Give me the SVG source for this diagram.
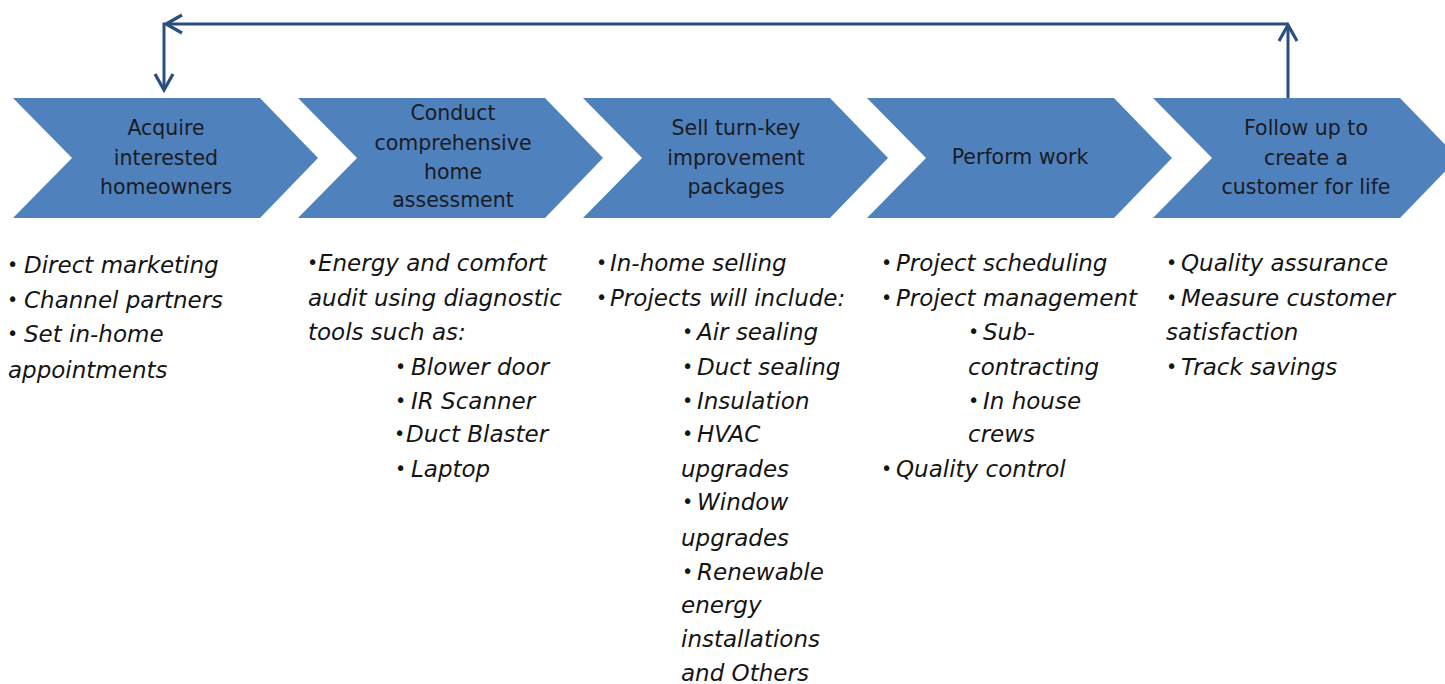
<svg xmlns="http://www.w3.org/2000/svg" width="1445" height="684" viewBox="0 0 1445 684">
<defs>
<style>
.chev{fill:#4F81BD;}
.t{font-family:"DejaVu Sans",sans-serif;font-size:20.5px;fill:#1b1b24;text-anchor:middle;}
.b{font-family:"DejaVu Sans",sans-serif;font-style:italic;font-size:23px;fill:#141414;}
.d{font-size:19px;font-style:normal;}
.conn{fill:none;stroke:#2A4F7E;stroke-width:3;}
</style>
<marker id="ah" markerUnits="userSpaceOnUse" markerWidth="24" markerHeight="24" viewBox="0 0 24 24" refX="20" refY="12" orient="auto">
<path d="M4,3 L20,12 L4,21" fill="none" stroke="#2A4F7E" stroke-width="3.2"/>
</marker>
</defs>
<rect width="1445" height="684" fill="#ffffff"/>

<g id="connectors">
<path class="conn" d="M1288,98 V25" marker-end="url(#ah)"/>
<path class="conn" d="M1288,24 H166" marker-end="url(#ah)"/>
<path class="conn" d="M164,22.5 V90" marker-end="url(#ah)"/>
</g>

<g id="step1">
<polygon class="chev" points="13,98 260,98 318,158 260,218 13,218 72,158"/>
<text class="t" x="166" y="135">Acquire</text>
<text class="t" x="166" y="165">interested</text>
<text class="t" x="166" y="194">homeowners</text>
</g>
<g id="step2">
<polygon class="chev" points="298,98 545,98 603,158 545,218 298,218 357,158"/>
<text class="t" x="453" y="120">Conduct</text>
<text class="t" x="453" y="150">comprehensive</text>
<text class="t" x="453" y="179">home</text>
<text class="t" x="453" y="207">assessment</text>
</g>
<g id="step3">
<polygon class="chev" points="583,98 830,98 888,158 830,218 583,218 642,158"/>
<text class="t" x="736" y="135">Sell turn-key</text>
<text class="t" x="736" y="165">improvement</text>
<text class="t" x="736" y="194">packages</text>
</g>
<g id="step4">
<polygon class="chev" points="867,98 1114,98 1172,158 1114,218 867,218 926,158"/>
<text class="t" x="1020" y="164">Perform work</text>
</g>
<g id="step5">
<polygon class="chev" points="1153,98 1400,98 1458,158 1400,218 1153,218 1212,158"/>
<text class="t" x="1306" y="135">Follow up to</text>
<text class="t" x="1306" y="165">create a</text>
<text class="t" x="1306" y="194">customer for life</text>
</g>

<g id="list1">
<text class="b" y="273"><tspan class="d" x="7" dy="-2">•</tspan><tspan x="24" dy="2">Direct marketing</tspan></text>
<text class="b" y="308"><tspan class="d" x="7" dy="-2">•</tspan><tspan x="24" dy="2">Channel partners</tspan></text>
<text class="b" y="342"><tspan class="d" x="7" dy="-2">•</tspan><tspan x="24" dy="2">Set in-home</tspan></text>
<text class="b" x="8" y="378">appointments</text>
</g>
<g id="list2">
<text class="b" y="271"><tspan class="d" x="307" dy="-2">•</tspan><tspan x="318" dy="2">Energy and comfort</tspan></text>
<text class="b" x="308" y="306">audit using diagnostic</text>
<text class="b" x="308" y="340">tools such as:</text>
<text class="b" y="375"><tspan class="d" x="395" dy="-2">•</tspan><tspan x="411" dy="2">Blower door</tspan></text>
<text class="b" y="409"><tspan class="d" x="395" dy="-2">•</tspan><tspan x="411" dy="2">IR Scanner</tspan></text>
<text class="b" y="442"><tspan class="d" x="394" dy="-2">•</tspan><tspan x="406" dy="2">Duct Blaster</tspan></text>
<text class="b" y="477"><tspan class="d" x="395" dy="-2">•</tspan><tspan x="411" dy="2">Laptop</tspan></text>
</g>
<g id="list3">
<text class="b" y="271"><tspan class="d" x="596" dy="-2">•</tspan><tspan x="610" dy="2">In-home selling</tspan></text>
<text class="b" y="306"><tspan class="d" x="596" dy="-2">•</tspan><tspan x="610" dy="2">Projects will include:</tspan></text>
<text class="b" y="340"><tspan class="d" x="682" dy="-2">•</tspan><tspan x="697" dy="2">Air sealing</tspan></text>
<text class="b" y="375"><tspan class="d" x="682" dy="-2">•</tspan><tspan x="697" dy="2">Duct sealing</tspan></text>
<text class="b" y="409"><tspan class="d" x="682" dy="-2">•</tspan><tspan x="697" dy="2">Insulation</tspan></text>
<text class="b" y="442"><tspan class="d" x="682" dy="-2">•</tspan><tspan x="697" dy="2">HVAC</tspan></text>
<text class="b" x="681" y="477">upgrades</text>
<text class="b" y="510"><tspan class="d" x="682" dy="-2">•</tspan><tspan x="697" dy="2">Window</tspan></text>
<text class="b" x="681" y="546">upgrades</text>
<text class="b" y="580"><tspan class="d" x="682" dy="-2">•</tspan><tspan x="697" dy="2">Renewable</tspan></text>
<text class="b" x="681" y="613">energy</text>
<text class="b" x="681" y="647">installations</text>
<text class="b" x="681" y="681">and Others</text>
</g>
<g id="list4">
<text class="b" y="271"><tspan class="d" x="881" dy="-2">•</tspan><tspan x="896" dy="2">Project scheduling</tspan></text>
<text class="b" y="306"><tspan class="d" x="881" dy="-2">•</tspan><tspan x="896" dy="2">Project management</tspan></text>
<text class="b" y="340"><tspan class="d" x="968" dy="-2">•</tspan><tspan x="983" dy="2">Sub-</tspan></text>
<text class="b" x="968" y="375">contracting</text>
<text class="b" y="409"><tspan class="d" x="968" dy="-2">•</tspan><tspan x="983" dy="2">In house</tspan></text>
<text class="b" x="968" y="442">crews</text>
<text class="b" y="477"><tspan class="d" x="881" dy="-2">•</tspan><tspan x="896" dy="2">Quality control</tspan></text>
</g>
<g id="list5">
<text class="b" y="271"><tspan class="d" x="1166" dy="-2">•</tspan><tspan x="1181" dy="2">Quality assurance</tspan></text>
<text class="b" y="306"><tspan class="d" x="1166" dy="-2">•</tspan><tspan x="1181" dy="2">Measure customer</tspan></text>
<text class="b" x="1166" y="340">satisfaction</text>
<text class="b" y="375"><tspan class="d" x="1166" dy="-2">•</tspan><tspan x="1181" dy="2">Track savings</tspan></text>
</g>
</svg>
